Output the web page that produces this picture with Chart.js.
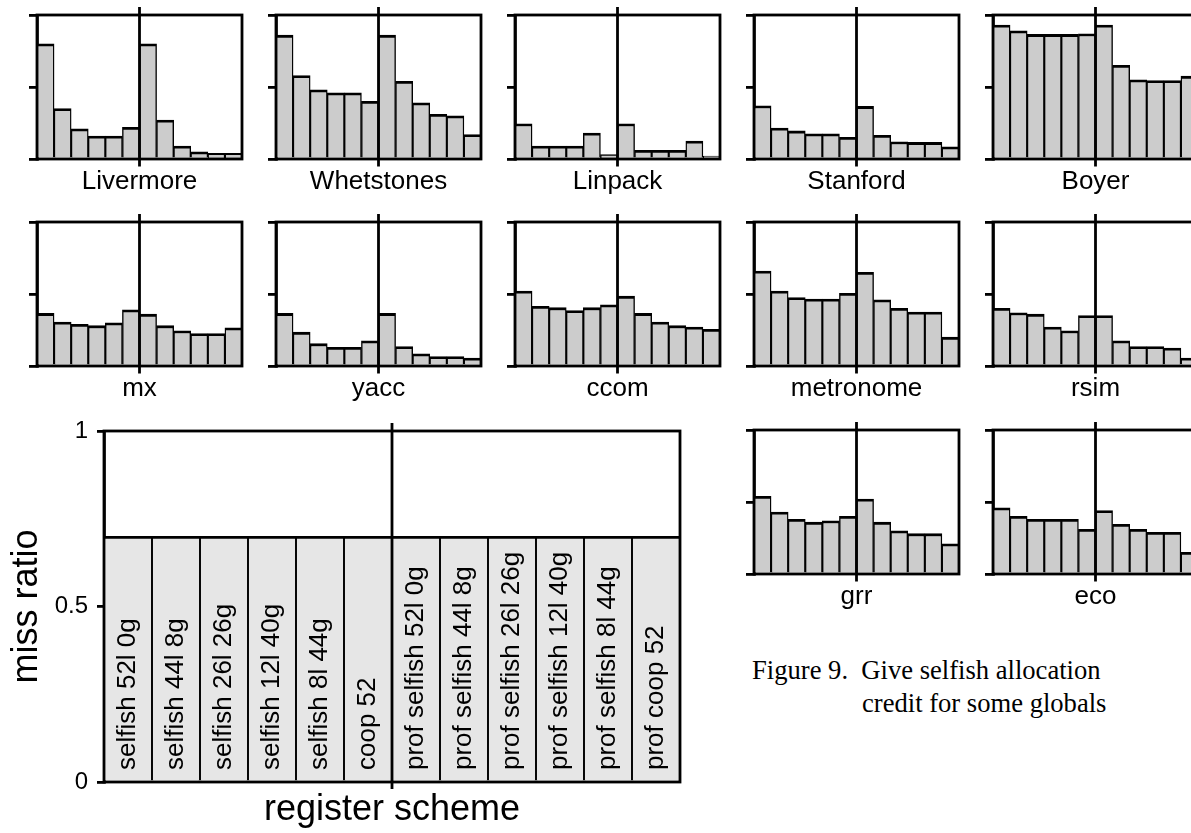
<!DOCTYPE html>
<html><head><meta charset="utf-8">
<script src="https://cdn.jsdelivr.net/npm/chart.js@4/dist/chart.umd.min.js"></script>
<style>
html,body{margin:0;padding:0;width:1191px;height:833px;overflow:hidden;background:#fff;}
canvas{position:absolute;}
.cap{position:absolute;font-family:'Liberation Serif','Times New Roman',serif;font-size:26.6px;line-height:33px;color:#000;white-space:pre;}
</style></head><body>
<div class="cap" style="left:752px;top:654px">Figure 9.  Give selfish allocation</div>
<div class="cap" style="left:862px;top:687px">credit for some globals</div>
<script>
// ---------- data ----------
const schemes = ['selfish 52l 0g','selfish 44l 8g','selfish 26l 26g','selfish 12l 40g','selfish 8l 44g','coop 52',
  'prof selfish 52l 0g','prof selfish 44l 8g','prof selfish 26l 26g','prof selfish 12l 40g','prof selfish 8l 44g','prof coop 52'];
const benchmarkNames = ['Livermore','Whetstones','Linpack','Stanford','Boyer','mx','yacc','ccom','metronome','rsim','grr','eco'];
const livermore  = [0.80,0.35,0.21,0.16,0.16,0.22,0.80,0.27,0.09,0.05,0.04,0.04];
const whetstones = [0.86,0.58,0.48,0.46,0.46,0.40,0.86,0.54,0.39,0.31,0.30,0.17];
const linpack    = [0.245,0.09,0.09,0.09,0.18,0.03,0.245,0.06,0.06,0.06,0.125,0.02];
const stanford   = [0.37,0.215,0.195,0.175,0.175,0.15,0.365,0.165,0.12,0.115,0.115,0.085];
const boyer      = [0.93,0.89,0.865,0.865,0.865,0.87,0.93,0.65,0.55,0.545,0.545,0.575];
const mx         = [0.365,0.305,0.29,0.28,0.30,0.39,0.36,0.28,0.245,0.225,0.225,0.265];
const yacc       = [0.365,0.235,0.155,0.13,0.13,0.175,0.365,0.135,0.085,0.065,0.065,0.055];
const ccom       = [0.52,0.415,0.405,0.385,0.405,0.425,0.485,0.365,0.305,0.28,0.27,0.255];
const metronome  = [0.66,0.52,0.475,0.465,0.465,0.505,0.65,0.46,0.40,0.375,0.375,0.20];
const rsim       = [0.40,0.37,0.36,0.27,0.245,0.35,0.35,0.175,0.135,0.135,0.125,0.055];
const grr        = [0.54,0.43,0.38,0.36,0.37,0.40,0.52,0.36,0.30,0.28,0.28,0.21];
const eco        = [0.46,0.40,0.38,0.38,0.38,0.31,0.44,0.345,0.31,0.29,0.29,0.15];
const keyValues  = [0.7,0.7,0.7,0.7,0.7,0.7,0.7,0.7,0.7,0.7,0.7,0.7];
const yTickLabels = ['0','0.5','1'];
const yAxisTitle = 'miss ratio';
const xAxisTitle = 'register scheme';

// ---------- layout ----------
const FONT = "'Liberation Sans', Arial, Helvetica, sans-serif";
Chart.defaults.font.family = FONT;
Chart.defaults.color = '#000';

const series = [livermore, whetstones, linpack, stanford, boyer, mx, yacc, ccom, metronome, rsim, grr, eco];
const cells = [[0,0],[1,0],[2,0],[3,0],[4,0],[0,1],[1,1],[2,1],[3,1],[4,1],[3,2],[4,2]];
const colLeft = [37,276,515,754,993];
const rowTop = [15,222,430];
const PW = 205, PH = 144, PADL = 12, PADT = 10, PADR = 4, XH = 45;
const LW = 2.8;

const framePlugin = {
  id: 'frame',
  afterDatasetsDraw(chart, args, opts) {
    const {ctx, chartArea: a, scales: {x}} = chart;
    ctx.save();
    ctx.strokeStyle = '#000';
    ctx.lineWidth = opts.lw;
    ctx.strokeRect(a.left, a.top, a.right - a.left, a.bottom - a.top);
    const mid = (x.getPixelForValue(5) + x.getPixelForValue(6)) / 2;
    ctx.beginPath();
    ctx.moveTo(mid, a.top - opts.ext1);
    ctx.lineTo(mid, a.bottom + opts.ext2);
    ctx.stroke();
    ctx.restore();
  }
};

const barLabelPlugin = {
  id: 'barLabels',
  afterDatasetsDraw(chart, args, opts) {
    const {ctx, chartArea: a, scales: {x}} = chart;
    ctx.save();
    ctx.font = opts.size + 'px ' + FONT;
    ctx.fillStyle = '#000';
    ctx.textAlign = 'left';
    ctx.textBaseline = 'middle';
    chart.data.labels.forEach((lab, i) => {
      const px = x.getPixelForValue(i);
      ctx.save();
      ctx.translate(px, a.bottom - opts.offset);
      ctx.rotate(-Math.PI / 2);
      ctx.fillText(lab, 0, 0);
      ctx.restore();
    });
    ctx.restore();
  }
};

function makeCanvas(left, top, w, h) {
  const cv = document.createElement('canvas');
  cv.width = w; cv.height = h;
  cv.style.left = left + 'px'; cv.style.top = top + 'px';
  cv.style.width = w + 'px'; cv.style.height = h + 'px';
  document.body.appendChild(cv);
  return cv;
}

series.forEach((vals, i) => {
  const [c, r] = cells[i];
  const W = PADL + PW + PADR, H = PADT + PH + XH;
  const cv = makeCanvas(colLeft[c] - PADL, rowTop[r] - PADT, W, H);
  new Chart(cv, {
    type: 'bar',
    data: {labels: schemes, datasets: [{
      data: vals, backgroundColor: '#cccccc', borderColor: '#000',
      borderWidth: {top: LW, left: 1.4, right: 1.4, bottom: 0}, borderSkipped: false,
      barPercentage: 1, categoryPercentage: 1
    }]},
    options: {
      responsive: false, animation: false, devicePixelRatio: 1,
      layout: {padding: {left: 0, top: PADT, right: PADR, bottom: 0}},
      plugins: {legend: {display: false}, tooltip: {enabled: false}, frame: {ext1: 8, ext2: 7.5, lw: LW}},
      scales: {
        x: {
          ticks: {display: false}, grid: {display: false}, border: {display: false},
          afterFit(s) { s.height = XH; },
          title: {display: true, text: benchmarkNames[i], font: {size: 26}, color: '#000', padding: {top: 0, bottom: 6.5}}
        },
        y: {
          min: 0, max: 1,
          ticks: {display: false, stepSize: 0.5},
          grid: {drawOnChartArea: false, drawTicks: true, tickLength: 8, color: '#000', lineWidth: LW},
          border: {display: true, color: '#000', width: LW},
          afterFit(s) { s.width = PADL; }
        }
      }
    },
    plugins: [framePlugin]
  });
});

// ---------- big key chart ----------
(function () {
  const W = 700, H = 452;
  const cv = makeCanvas(0, 381, W, H);
  new Chart(cv, {
    type: 'bar',
    data: {labels: schemes, datasets: [{
      data: keyValues, backgroundColor: '#e6e6e6', borderColor: '#000',
      borderWidth: {top: LW, left: 1.3, right: 1.3, bottom: 0}, borderSkipped: false,
      barPercentage: 1, categoryPercentage: 1
    }]},
    options: {
      responsive: false, animation: false, devicePixelRatio: 1,
      layout: {padding: {left: 0, top: 50, right: 20, bottom: 0}},
      plugins: {legend: {display: false}, tooltip: {enabled: false},
        frame: {ext1: 8, ext2: 7, lw: LW}, barLabels: {size: 26, offset: 12}},
      scales: {
        x: {
          ticks: {display: false}, grid: {display: false}, border: {display: false},
          afterFit(s) { s.height = 51; },
          title: {display: true, text: xAxisTitle, font: {size: 36}, color: '#000', padding: {top: 0, bottom: 1}}
        },
        y: {
          min: 0, max: 1,
          ticks: {stepSize: 0.5, font: {size: 24}, padding: 9, color: '#000',
            callback: (v, idx) => yTickLabels[idx]},
          grid: {drawOnChartArea: false, drawTicks: true, tickLength: 7, color: '#000', lineWidth: LW},
          border: {display: true, color: '#000', width: LW},
          afterFit(s) { s.width = 104; },
          title: {display: true, text: yAxisTitle, font: {size: 36}, color: '#000', padding: {top: 5, bottom: 0}}
        }
      }
    },
    plugins: [barLabelPlugin, framePlugin]
  });
})();
</script>
</body></html>
